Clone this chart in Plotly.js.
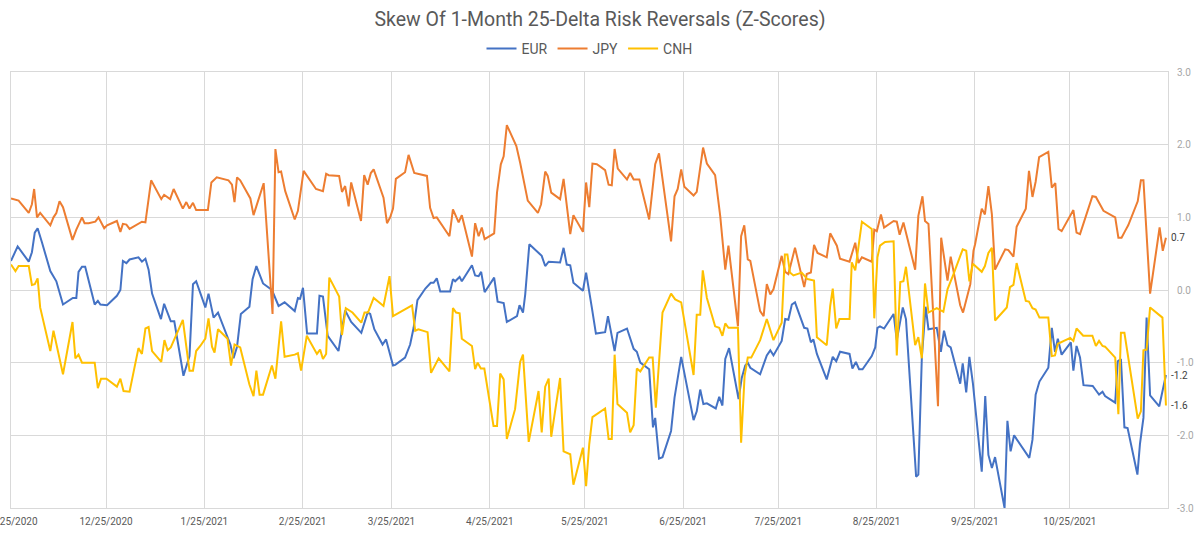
<!DOCTYPE html>
<html>
<head>
<meta charset="utf-8">
<script src="https://cdn.plot.ly/plotly-3.0.1.min.js"></script>
<style>html,body{margin:0;padding:0;background:#fff;}#chart{width:1200px;height:533px;}</style>
</head>
<body>
<div id="chart"></div>
<script>
// Dates are stored as days since the start date (2020-11-25).
const startDate = "2020-11-25";
const seriesNames = ["EUR", "JPY", "CNH"];
const seriesColors = ["#4472C4", "#ED7D31", "#FFC000"];

const eurDays = [0,2.1,5.6,6.6,7.5,8.4,9.8,12.4,14.3,16.4,19.5,20.6,21.3,22.4,23.4,26.4,27.4,28.2,30.3,33.4,34.5,35.3,36.4,37.4,40.2,41.3,42.4,43.4,44.5,47.3,48.3,50.4,51.5,54.4,56.3,57.4,58.4,59.7,61.3,62.3,63.9,65.3,69.2,70.2,71.3,72.5,75.2,76.2,77.4,79.5,82.3,84.4,86.3,89.5,90.5,91.2,92.1,93.4,96.5,97.3,98.4,99.9,103.3,105.4,107.3,110.5,112.5,113.3,114.6,117.2,118.3,120.5,121.2,124.3,125.9,127.0,128.2,130.7,132.4,133.3,134.3,135.4,138.5,139.4,140.1,141.5,142.2,145.4,146.4,147.5,148.3,149.4,152.4,153.5,155.4,156.4,159.6,160.4,161.5,162.2,163.5,167.4,168.5,169.6,173.2,174.3,175.3,176.4,177.4,180.4,181.4,183.2,184.5,187.4,188.3,190.4,191.3,194.3,196.4,197.4,198.5,201.3,202.5,203.2,204.4,205.5,208.2,209.3,211.4,215.3,216.3,217.4,218.4,219.5,222.3,223.4,224.4,225.3,226.5,229.5,230.5,231.6,232.4,233.2,236.3,238.4,239.5,240.5,243.1,244.2,245.2,246.3,247.3,250.2,251.2,252.3,253.1,254.2,257.3,259.2,260.3,261.5,264.5,265.4,266.5,267.5,268.6,271.5,272.6,273.3,274.1,275.4,278.4,279.4,281.3,282.3,285.5,286.2,287.3,288.5,289.4,292.0,293.3,294.3,295.4,296.4,299.4,300.2,301.3,302.3,303.4,306.2,307.3,308.3,309.4,310.4,313.4,314.3,315.3,316.4,321.2,322.2,323.2,324.4,327.2,328.3,329.3,330.2,331.4,334.3,335.1,336.1,337.2,338.3,341.2,342.2,343.2,344.3,345.1,348.3,349.1,350.1,351.2,352.2,355.3,356.1,357.2,358.2,359.3,362.2,364.3];
const eurValues = [0.40,0.60,0.39,0.52,0.79,0.85,0.65,0.26,0.12,-0.20,-0.11,-0.11,0.25,0.32,0.32,-0.20,-0.15,-0.20,-0.21,-0.08,0.00,0.40,0.37,0.42,0.45,0.39,0.43,0.28,-0.05,-0.40,-0.19,-0.43,-0.43,-1.18,-0.91,0.08,0.12,-0.05,-0.24,-0.05,-0.38,-0.31,-0.75,-0.94,-0.78,-0.33,-0.23,0.15,0.33,0.09,0.00,-0.22,-0.17,-0.29,-0.11,-0.12,0.03,-0.60,-0.60,-0.08,-0.09,-0.63,-0.84,-0.28,-0.44,-0.59,-0.31,-0.33,-0.54,-0.75,-0.68,-1.04,-1.03,-0.93,-0.75,-0.52,-0.14,0.02,0.10,0.10,0.16,-0.02,-0.02,0.15,0.12,0.18,0.12,0.34,0.20,0.19,0.25,-0.03,0.17,-0.16,-0.18,-0.44,-0.36,-0.21,-0.31,-0.06,0.63,0.47,0.33,0.39,0.38,0.58,0.35,0.34,0.10,-0.01,0.24,-0.24,-0.60,-0.58,-0.36,-0.84,-0.59,-0.53,-0.81,-0.85,-1.00,-1.09,-1.89,-1.76,-2.32,-2.30,-1.94,-1.48,-0.92,-1.79,-1.67,-1.37,-1.57,-1.56,-1.63,-1.47,-1.59,-0.95,-0.80,-1.50,-1.21,-1.04,-1.00,-1.07,-1.16,-0.90,-0.83,-0.90,-0.70,-0.40,-0.41,-0.20,-0.17,-0.52,-0.53,-0.72,-0.68,-0.88,-1.23,-0.92,-0.98,-0.85,-0.88,-1.08,-0.99,-1.09,-1.09,-0.91,-0.79,-0.52,-0.50,-0.53,-0.33,-0.69,-0.24,-0.40,-2.57,-2.54,-0.93,-0.23,-0.54,-0.52,-0.85,-0.56,-0.76,-0.79,-1.29,-1.01,-1.41,-0.92,-1.28,-2.50,-1.46,-2.27,-2.45,-2.30,-3.00,-1.80,-2.22,-2.00,-2.31,-2.06,-1.44,-1.26,-1.07,-0.52,-0.85,-0.67,-0.89,-0.72,-1.11,-0.77,-0.93,-1.31,-1.32,-1.38,-1.44,-1.40,-1.46,-1.55,-0.98,-0.95,-1.89,-1.90,-2.54,-2.12,-1.76,-0.38,-1.45,-1.60,-1.17];

const jpyDays = [0,1.4,2.4,5.6,6.6,7.3,8.2,9.2,12.4,13.4,14.3,15.3,16.4,19.4,20.6,22.4,23.2,24.5,26.6,27.6,29.4,30.3,33.4,34.5,35.3,36.4,37.4,41.3,42.4,44.2,47.4,48.3,50.2,51.3,54.2,55.3,56.3,57.4,58.4,59.7,62.1,63.2,64.9,68.6,69.7,70.5,71.3,72.3,75.5,76.5,77.6,78.4,79.7,82.5,83.4,84.4,85.2,86.5,89.5,90.5,92.3,96.2,98.4,99.4,100.2,103.5,104.4,105.4,106.5,107.3,110.4,111.4,112.5,113.5,114.4,117.5,118.6,119.6,120.5,121.4,124.3,125.4,127.2,131.2,132.2,133.3,134.3,138.3,139.4,141.2,142.2,145.4,146.4,147.5,148.5,149.4,152.4,153.3,154.5,155.4,156.4,159.4,160.6,163.0,166.2,167.2,168.5,169.3,170.4,173.2,174.3,176.4,177.4,180.4,181.4,182.4,183.4,184.8,187.4,188.5,189.5,190.4,191.4,194.3,195.3,196.4,198.2,201.3,203.2,204.4,208.2,209.3,210.3,211.4,212.4,215.3,216.3,218.3,219.5,222.1,223.7,225.3,226.3,229.3,230.3,231.3,232.4,233.2,236.3,237.4,238.4,239.5,240.5,243.1,244.2,245.2,247.3,250.2,251.0,252.3,253.3,254.4,257.3,258.4,260.5,261.5,264.5,266.3,267.3,268.4,271.5,272.3,273.1,274.4,275.4,278.4,279.4,280.3,281.5,285.2,286.2,287.5,288.3,289.4,292.4,293.4,295.4,296.4,299.4,300.3,302.6,303.6,304.1,306.2,307.2,308.3,309.4,310.4,313.6,314.6,316.2,317.2,320.1,321.1,322.2,323.2,324.3,327.2,328.3,329.4,330.4,331.4,335.1,336.1,337.2,341.1,342.2,344.6,348.3,349.3,350.3,351.4,352.4,355.4,356.4,357.2,359.3,362.3,363.3,364.3];
const jpyValues = [1.26,1.24,1.23,1.06,1.18,1.39,1.00,1.06,0.89,1.00,1.06,1.22,1.14,0.69,0.83,1.00,0.92,0.92,0.94,1.00,0.85,0.89,0.95,0.80,0.91,0.90,0.84,0.94,0.93,1.51,1.25,1.31,1.25,1.39,1.12,1.21,1.12,1.20,1.10,1.10,1.10,1.48,1.55,1.51,1.45,1.21,1.55,1.51,1.26,1.03,1.19,1.27,1.47,-0.33,1.94,1.62,1.63,1.36,0.97,1.09,1.64,1.39,1.36,1.60,1.58,1.57,1.35,1.43,1.15,1.48,0.95,1.58,1.45,1.61,1.66,1.27,0.92,1.00,1.12,1.53,1.62,1.86,1.61,1.57,1.13,0.99,1.00,0.74,1.11,0.93,1.03,0.46,0.92,0.74,0.86,0.70,0.78,1.34,1.73,1.84,2.27,1.98,1.75,1.23,1.06,1.18,1.63,1.57,1.34,1.25,1.53,0.77,1.03,0.80,1.48,1.14,1.74,1.73,1.65,1.45,1.44,1.94,1.67,1.52,1.61,1.52,1.52,0.97,1.73,1.88,0.67,1.29,1.39,1.66,1.42,1.30,1.35,1.96,1.74,1.58,1.02,0.28,0.61,-0.50,0.74,0.89,0.42,0.40,-0.29,-0.36,0.08,-0.06,0.01,0.47,0.25,0.22,0.58,0.04,0.22,0.24,0.62,0.51,0.45,0.78,0.61,0.43,0.39,0.65,0.37,0.45,0.39,0.83,0.81,1.04,0.86,0.95,0.94,0.76,0.93,0.28,1.02,1.29,0.95,0.91,-1.60,0.72,0.13,0.46,-0.21,-0.31,0.08,0.54,0.63,1.12,1.04,1.43,1.04,0.28,0.56,0.55,0.46,0.87,1.12,1.64,1.28,1.49,1.83,1.90,1.41,1.47,0.84,0.81,1.10,0.79,0.77,1.29,1.28,1.09,1.00,0.72,0.72,0.81,0.89,1.22,1.51,1.51,-0.05,0.86,0.54,0.72];

const cnhDays = [0,1.4,2.4,5.6,6.6,7.5,8.4,9.2,12.4,13.4,16.4,19.4,20.3,21.3,22.4,26.4,27.4,28.4,30.1,33.4,34.5,35.5,37.4,40.2,41.3,42.4,43.4,44.5,47.4,48.4,49.4,50.4,54.2,56.3,57.4,58.4,59.7,61.3,62.3,63.4,64.2,65.3,68.3,69.4,70.5,72.3,75.2,76.5,77.4,78.4,79.5,82.3,83.4,85.2,86.3,89.5,90.5,91.5,93.3,96.5,97.5,98.4,99.4,100.4,103.5,104.4,105.6,107.7,110.5,111.5,112.6,114.4,117.5,119.4,120.5,124.3,126.5,127.5,128.5,131.4,132.5,134.9,138.3,139.4,140.4,141.5,142.2,145.4,146.4,147.2,148.2,149.3,152.2,153.3,154.3,155.4,156.4,159.0,160.6,161.5,163.3,166.4,167.4,168.5,169.6,170.4,173.2,174.3,176.4,177.4,180.4,181.4,182.4,183.4,187.4,188.5,189.5,190.4,191.3,194.3,195.3,196.4,197.4,198.5,201.3,202.4,203.4,205.5,208.2,209.5,211.4,215.3,216.3,217.4,218.2,219.5,222.1,223.4,224.4,225.3,226.3,229.3,230.3,231.4,232.4,233.5,236.3,238.4,240.5,243.1,244.1,244.9,245.7,246.8,249.4,251.2,253.3,254.2,257.3,258.4,259.2,260.3,261.3,264.5,265.2,266.3,268.4,271.5,272.3,273.3,274.1,275.7,278.4,279.4,280.5,281.5,282.3,285.2,286.2,287.3,288.3,289.4,292.0,294.1,295.4,297.3,300.2,301.3,302.3,303.4,306.2,307.2,308.3,309.4,310.4,314.1,315.1,316.2,317.2,320.1,321.1,322.2,323.2,324.4,327.2,328.3,329.3,330.2,334.1,335.1,336.1,338.2,341.1,342.2,343.2,344.3,345.1,348.3,349.3,350.1,351.2,355.4,356.4,357.2,358.2,359.3,363.2,364.3];
const cnhValues = [0.35,0.26,0.33,0.33,0.07,0.08,0.16,-0.24,-0.84,-0.56,-1.16,-0.44,-0.94,-0.89,-1.00,-1.00,-1.35,-1.22,-1.22,-1.33,-1.22,-1.39,-1.40,-0.80,-0.88,-0.53,-0.51,-0.84,-0.99,-0.69,-0.83,-0.79,-0.41,-1.11,-1.11,-0.84,-0.77,-0.67,-0.39,-0.78,-0.86,-0.54,-0.67,-1.04,-0.75,-0.79,-1.30,-1.46,-1.11,-1.44,-1.44,-1.04,-1.22,-0.43,-0.92,-0.89,-0.87,-1.11,-0.63,-0.88,-0.82,-0.95,-0.88,0.17,-0.09,-0.62,-0.25,-0.31,-0.45,-0.31,-0.31,-0.11,-0.22,0.19,-0.36,-0.26,-0.21,-0.56,-0.54,-0.58,-1.14,-0.94,-1.12,-0.25,-0.31,-0.32,-0.67,-0.77,-1.09,-1.00,-1.08,-1.08,-1.87,-1.87,-1.15,-1.23,-2.05,-1.64,-0.99,-0.89,-2.09,-1.39,-1.96,-1.33,-1.22,-2.02,-1.21,-2.22,-2.26,-2.68,-2.17,-2.70,-2.12,-1.75,-1.63,-2.05,-2.05,-0.89,-1.57,-1.69,-1.96,-1.86,-1.08,-1.12,-0.93,-0.93,-1.62,-0.31,-0.05,-0.13,-0.17,-1.17,-0.34,-0.34,0.27,-0.11,-0.50,-0.52,-0.63,-0.46,-0.52,-0.52,-2.10,-1.18,-0.93,-0.93,-0.69,-0.40,-0.69,-0.45,0.49,0.49,0.24,0.20,0.24,0.15,0.13,-0.65,-0.76,-0.22,0.02,-0.53,-0.40,-0.40,0.38,0.27,0.94,0.84,-0.39,0.45,0.61,0.66,0.67,-0.90,0.11,0.12,0.32,-0.76,-0.65,-0.94,0.09,-0.31,-0.25,-0.30,0.01,0.22,0.56,0.54,0.12,0.36,0.25,0.33,0.51,0.58,-0.42,-0.24,0.04,0.07,0.37,-0.15,-0.16,-0.25,-0.27,-0.38,-0.38,-0.91,-0.90,-0.74,-0.66,-0.70,-0.53,-0.63,-0.63,-0.77,-0.70,-0.77,-0.78,-0.93,-1.71,-0.59,-0.59,-1.77,-1.67,-0.83,-0.82,-0.24,-0.38,-1.59];

const yTickVals = [-3, -2, -1, 0, 1, 2, 3];
const xRangeDays = [0, 364.95];

const startMs = Date.parse(startDate + "T00:00:00Z");
function dayToDate(d) {
  return new Date(startMs + d * 86400000).toISOString().slice(0, 19).replace("T", " ");
}

const allDays = [eurDays, jpyDays, cnhDays];
const allValues = [eurValues, jpyValues, cnhValues];
const fontFam = "Roboto, 'Open Sans', sans-serif";

const traces = seriesNames.map((name, i) => ({
  type: "scatter",
  mode: "lines",
  name: name,
  x: allDays[i].map(dayToDate),
  y: allValues[i],
  line: { color: seriesColors[i], width: 2 },
  hoverinfo: "x+y+name"
}));

const annotations = seriesNames.map((name, i) => {
  const n = allValues[i].length;
  return {
    x: dayToDate(allDays[i][n - 1]),
    y: allValues[i][n - 1],
    xref: "x", yref: "y",
    text: allValues[i][n - 1].toFixed(1),
    showarrow: false,
    xanchor: "left",
    yanchor: "middle",
    xshift: 3,
    font: { family: fontFam, size: 10, color: "#404040" }
  };
});

const layout = {
  width: 1200,
  height: 533,
  margin: { l: 11, r: 32, t: 72, b: 25 },
  paper_bgcolor: "#ffffff",
  plot_bgcolor: "#ffffff",
  title: {
    text: "Skew Of 1-Month 25-Delta Risk Reversals (Z-Scores)",
    x: 0.5, xanchor: "center",
    y: 1 - 19 / 533, yanchor: "middle",
    font: { family: fontFam, size: 19.5, color: "#595959" }
  },
  showlegend: true,
  legend: {
    orientation: "h",
    x: 0.5, xanchor: "center",
    y: 1.053, yanchor: "middle",
    font: { family: fontFam, size: 14, color: "#595959" },
    itemwidth: 30,
    tracegroupgap: 0
  },
  xaxis: {
    type: "date",
    range: xRangeDays.map(dayToDate),
    tick0: startDate,
    dtick: "M1",
    tickformat: "%-m/%-d/%Y",
    showgrid: true,
    gridcolor: "#d9d9d9",
    gridwidth: 1,
    showline: true,
    mirror: true,
    linecolor: "#d9d9d9",
    zeroline: false,
    ticks: "",
    ticklabelstandoff: 4,
    ticklabeloverflow: "allow",
    tickfont: { family: fontFam, size: 10, color: "#595959" }
  },
  yaxis: {
    side: "right",
    range: [-3, 3],
    tickvals: yTickVals,
    ticktext: yTickVals.map(v => v.toFixed(1)),
    showgrid: true,
    gridcolor: "#d9d9d9",
    gridwidth: 1,
    showline: true,
    mirror: true,
    linecolor: "#d9d9d9",
    zeroline: false,
    ticks: "",
    ticklabelstandoff: 6,
    tickfont: { family: fontFam, size: 10, color: "#a6a6a6" }
  },
  annotations: annotations
};

Plotly.newPlot("chart", traces, layout, { displayModeBar: false, staticPlot: true });
</script>
</body>
</html>
